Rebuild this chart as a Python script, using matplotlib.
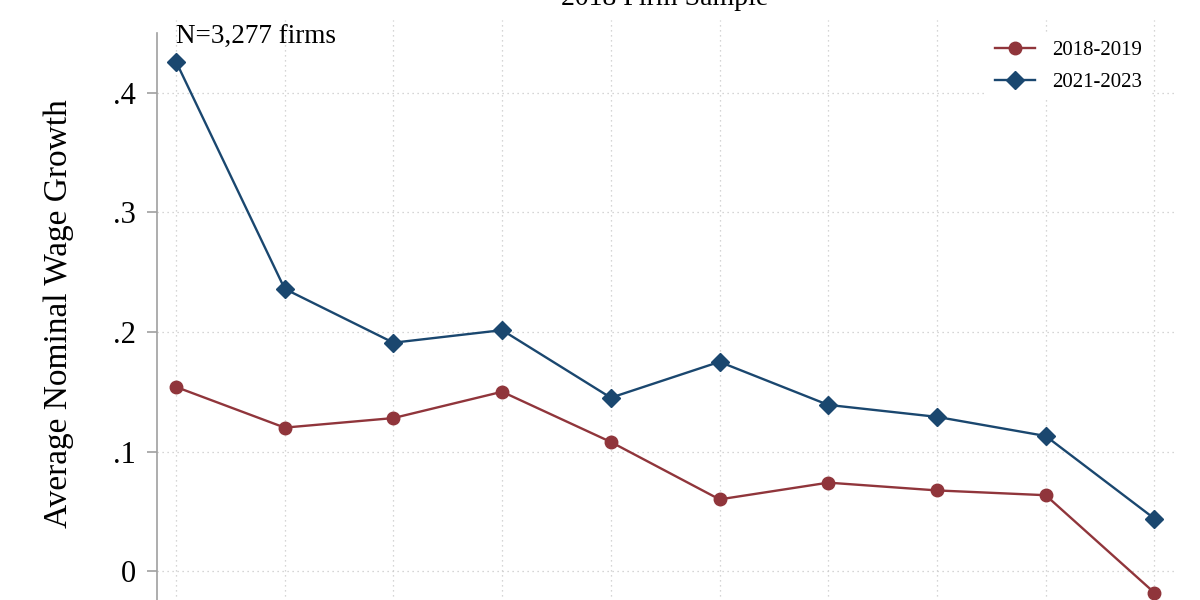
#-*- coding:utf-8 -*-
import numpy as np
import matplotlib
matplotlib.use('Agg')
import matplotlib.pyplot as plt

# data
groups = np.arange(1, 11)
wage_2018_2019 = [0.154, 0.120, 0.128, 0.150, 0.108, 0.060, 0.074, 0.0675, 0.0635, -0.018]
wage_2021_2023 = [0.426, 0.236, 0.191, 0.2015, 0.145, 0.175, 0.139, 0.129, 0.113, 0.044]
series_labels = ['2018-2019', '2021-2023']
y_ticks = [0, 0.1, 0.2, 0.3, 0.4]
y_tick_labels = ['0', '.1', '.2', '.3', '.4']

plt.rcParams['font.family'] = ['Liberation Serif', 'DejaVu Serif']

red = '#90353b'
blue = '#1a476f'

fig = plt.figure(figsize=(12, 6), dpi=100)
# axes run off the bottom of the picture like the original crop
ax = fig.add_axes([157 / 1200, (600 - 619) / 600, 1018 / 1200, 599 / 600])

ax.plot(groups, wage_2018_2019, '-o', color=red, lw=1.7, ms=9, label=series_labels[0], zorder=3)
ax.plot(groups, wage_2021_2023, '-D', color=blue, lw=1.7, ms=9.5, label=series_labels[1], zorder=3)

ax.set_xlim(0.825, 10.19)
ax.set_ylim(-0.04, 0.4608)
ax.set_xticks(groups)
ax.set_yticks(y_ticks)
ax.set_yticklabels(y_tick_labels)

# 网格
ax.grid(True, linestyle=(0, (1, 3)), color='#c8c8c8', linewidth=0.9)
ax.set_axisbelow(True)

for s in ['top', 'right', 'bottom']:
    ax.spines[s].set_visible(False)
ax.spines['left'].set_color('#a0a0a0')
ax.spines['left'].set_linewidth(1.2)
ax.spines['left'].set_bounds(-0.04, 0.45)

ax.tick_params(axis='y', length=7, width=1.2, color='#a0a0a0', labelsize=22, pad=8)
ax.tick_params(axis='x', length=0, labelbottom=False)

ax.set_ylabel('Average Nominal Wage Growth', fontsize=24)
ax.yaxis.set_label_coords(-0.082, 0.51)

ax.text(1.0, 0.457, 'N=3,277 firms', fontsize=19.5, ha='left', va='top')

# title is cut off at the top edge in the original
fig.text(665 / 1200, 1 - 5 / 600, '2018 Firm Sample', fontsize=20, ha='center', va='baseline')

leg = ax.legend(loc='upper right', bbox_to_anchor=(1150 / 1200, 568 / 600),
                bbox_transform=fig.transFigure, fontsize=15, frameon=True,
                facecolor='white', edgecolor='none', framealpha=1,
                handlelength=1.9, handletextpad=0.8, labelspacing=0.6,
                borderaxespad=0, borderpad=0.4)

fig.savefig('out.png', dpi=100)
